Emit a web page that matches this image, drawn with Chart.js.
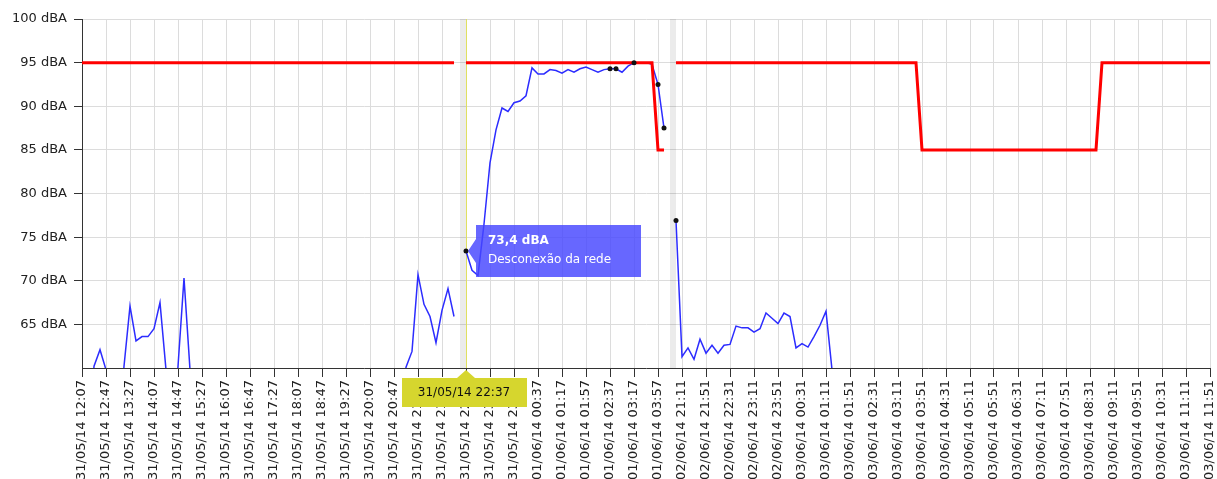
<!DOCTYPE html>
<html>
<head>
<meta charset="utf-8">
<script src="https://cdn.jsdelivr.net/npm/chart.js@4"></script>
<style>
  body { margin: 0; background: #fff; }
  #grafico { display: block; }
</style>
</head>
<body>
<canvas id="grafico" width="1217" height="479"></canvas>
<script>
// rótulos visíveis do eixo X (um a cada 4 leituras)
const rotulosX = [
  '31/05/14 12:07', '31/05/14 12:47', '31/05/14 13:27', '31/05/14 14:07', '31/05/14 14:47', '31/05/14 15:27',
  '31/05/14 16:07', '31/05/14 16:47', '31/05/14 17:27', '31/05/14 18:07', '31/05/14 18:47', '31/05/14 19:27',
  '31/05/14 20:07', '31/05/14 20:47', '31/05/14 21:17', '31/05/14 21:57', '31/05/14 22:37', '31/05/14 23:17',
  '31/05/14 23:57', '01/06/14 00:37', '01/06/14 01:17', '01/06/14 01:57', '01/06/14 02:37', '01/06/14 03:17',
  '01/06/14 03:57', '02/06/14 21:11', '02/06/14 21:51', '02/06/14 22:31', '02/06/14 23:11', '02/06/14 23:51',
  '03/06/14 00:31', '03/06/14 01:11', '03/06/14 01:51', '03/06/14 02:31', '03/06/14 03:11', '03/06/14 03:51',
  '03/06/14 04:31', '03/06/14 05:11', '03/06/14 05:51', '03/06/14 06:31', '03/06/14 07:11', '03/06/14 07:51',
  '03/06/14 08:31', '03/06/14 09:11', '03/06/14 09:51', '03/06/14 10:31', '03/06/14 11:11', '03/06/14 11:51'
];

// nível medido (dBA); null = sem leitura
const nivel = [
  null, 50, 60.2, 62.1, 59.8, 50, 50, 60.2, 67.1, 63.1,
  63.6, 63.6, 64.5, 67.5, 59.8, 50, 60.2, 70.3, 59.8, 50,
  null, null, null, null, null, null, null, null, null, null,
  null, null, null, null, null, null, null, null, null, null,
  null, null, null, null, null, null, null, null, null, null,
  null, null, null, 50, 60.1, 61.9, 70.7, 67.3, 65.9, 62.9,
  66.6, 69.1, 65.9, null, 73.4, 71.2, 70.6, 76.5, 83.5, 87.3,
  89.8, 89.4, 90.4, 90.6, 91.2, 94.4, 93.7, 93.7, 94.2, 94.1,
  93.8, 94.2, 93.9, 94.3, 94.5, 94.2, 93.9, 94.2, 94.3, 94.3,
  93.9, 94.6, 95.0, 95.0, 95.0, 94.8, 92.5, 87.5, null, 76.9,
  61.3, 62.3, 61.0, 63.3, 61.7, 62.6, 61.7, 62.6, 62.7, 64.8,
  64.6, 64.6, 64.1, 64.5, 66.3, 65.7, 65.1, 66.3, 65.9, 62.3,
  62.8, 62.4, 63.6, 64.9, 66.5, 59.8, null, null, null, null,
  null, null, null, null, null, null, null, null, null, null,
  null, null, null, null, null, null, null, null, null, null,
  null, null, null, null, null, null, null, null, null, null,
  null, null, null, null, null, null, null, null, null, null,
  null, null, null, null, null, null, null, null, null, null,
  null, null, null, null, null, null, null, null, null
];

// limite (dBA)
const limite = [
  95, 95, 95, 95, 95, 95, 95, 95, 95, 95,
  95, 95, 95, 95, 95, 95, 95, 95, 95, 95,
  95, 95, 95, 95, 95, 95, 95, 95, 95, 95,
  95, 95, 95, 95, 95, 95, 95, 95, 95, 95,
  95, 95, 95, 95, 95, 95, 95, 95, 95, 95,
  95, 95, 95, 95, 95, 95, 95, 95, 95, 95,
  95, 95, 95, null, 95, 95, 95, 95, 95, 95,
  95, 95, 95, 95, 95, 95, 95, 95, 95, 95,
  95, 95, 95, 95, 95, 95, 95, 95, 95, 95,
  95, 95, 95, 95, 95, 95, 85, 85, null, 95,
  95, 95, 95, 95, 95, 95, 95, 95, 95, 95,
  95, 95, 95, 95, 95, 95, 95, 95, 95, 95,
  95, 95, 95, 95, 95, 95, 95, 95, 95, 95,
  95, 95, 95, 95, 95, 95, 95, 95, 95, 95,
  85, 85, 85, 85, 85, 85, 85, 85, 85, 85,
  85, 85, 85, 85, 85, 85, 85, 85, 85, 85,
  85, 85, 85, 85, 85, 85, 85, 85, 85, 85,
  95, 95, 95, 95, 95, 95, 95, 95, 95, 95,
  95, 95, 95, 95, 95, 95, 95, 95, 95
];

// leituras marcadas com ponto, desconexões e ponto selecionado
const marcados = [64, 88, 89, 92, 96, 97, 99];
const desconexoes = [63, 98];
const selecionado = 64;
const textoSelecionado = ['73,4 dBA', 'Desconexão da rede'];

const categorias = nivel.map((v, i) => (i % 4 === 0 ? rotulosX[i / 4] : ''));

Chart.defaults.font.family = "'DejaVu Sans', Verdana, sans-serif";
Chart.defaults.font.size = 13;
Chart.defaults.color = '#222';

// faixas cinza das desconexões, linha amarela, pontos e etiquetas
const faixas = {
  id: 'faixas',
  beforeDatasetsDraw(chart) {
    const { ctx, chartArea, scales } = chart;
    ctx.save();
    ctx.fillStyle = 'rgba(0,0,0,0.08)';
    desconexoes.forEach(i => {
      const x0 = scales.x.getPixelForValue(i);
      const x1 = scales.x.getPixelForValue(i + 1);
      ctx.fillRect(x0, chartArea.top, x1 - x0, chartArea.bottom - chartArea.top);
    });
    const xs = Math.round(scales.x.getPixelForValue(selecionado)) + 0.5;
    ctx.strokeStyle = '#e0e060';
    ctx.lineWidth = 1;
    ctx.beginPath();
    ctx.moveTo(xs, chartArea.top);
    ctx.lineTo(xs, chartArea.bottom);
    ctx.stroke();
    ctx.restore();
  },
  afterDatasetsDraw(chart) {
    const { ctx } = chart;
    const meta = chart.getDatasetMeta(1);
    ctx.save();
    ctx.fillStyle = '#111';
    marcados.forEach(i => {
      const p = meta.data[i];
      ctx.beginPath();
      ctx.arc(p.x, p.y, 2.5, 0, Math.PI * 2);
      ctx.fill();
    });
    ctx.restore();
  },
  afterDraw(chart) {
    const { ctx, chartArea, scales } = chart;
    const x = scales.x.getPixelForValue(selecionado);
    const y = scales.y.getPixelForValue(nivel[selecionado]);
    ctx.save();
    // caixa de informação azul
    ctx.fillStyle = 'rgba(70,70,255,0.82)';
    ctx.beginPath();
    ctx.moveTo(x + 2, y);
    ctx.lineTo(x + 10, y - 12);
    ctx.lineTo(x + 10, y - 26);
    ctx.lineTo(x + 175, y - 26);
    ctx.lineTo(x + 175, y + 26);
    ctx.lineTo(x + 10, y + 26);
    ctx.lineTo(x + 10, y + 12);
    ctx.closePath();
    ctx.fill();
    ctx.fillStyle = '#fff';
    ctx.textAlign = 'left';
    ctx.textBaseline = 'middle';
    ctx.font = "bold 12px 'DejaVu Sans'";
    ctx.fillText(textoSelecionado[0], x + 22, y - 10);
    ctx.font = "12px 'DejaVu Sans'";
    ctx.fillText(textoSelecionado[1], x + 22, y + 9);
    // etiqueta amarela do eixo X
    const yb = chartArea.bottom;
    ctx.fillStyle = '#d6d62e';
    ctx.beginPath();
    ctx.moveTo(x, yb + 2);
    ctx.lineTo(x + 9, yb + 10);
    ctx.lineTo(x + 61, yb + 10);
    ctx.lineTo(x + 61, yb + 39);
    ctx.lineTo(x - 64, yb + 39);
    ctx.lineTo(x - 64, yb + 10);
    ctx.lineTo(x - 9, yb + 10);
    ctx.closePath();
    ctx.fill();
    ctx.fillStyle = '#111';
    ctx.textAlign = 'center';
    ctx.font = "12px 'DejaVu Sans'";
    ctx.fillText(rotulosX[selecionado / 4], x - 2, yb + 25);
    ctx.restore();
  }
};

new Chart(document.getElementById('grafico'), {
  type: 'line',
  data: {
    labels: categorias,
    datasets: [{
      label: 'Limite',
      data: limite,
      borderColor: '#ff0000',
      borderWidth: 3,
      pointRadius: 0,
      tension: 0
    }, {
      label: 'Nível',
      data: nivel,
      borderColor: '#2c2cff',
      borderWidth: 1.5,
      pointRadius: 0,
      tension: 0
    }]
  },
  options: {
    responsive: false,
    animation: false,
    devicePixelRatio: 1,
    layout: { padding: { top: 19, right: 0, left: 0, bottom: 0 } },
    plugins: {
      legend: { display: false },
      tooltip: { enabled: false }
    },
    events: [],
    scales: {
      x: {
        grid: { color: '#dcdcdc', tickColor: '#333', tickLength: 9 },
        border: { color: '#333' },
        ticks: {
          autoSkip: false,
          minRotation: 90,
          maxRotation: 90,
          padding: 3,
          color: '#222',
          callback: function(val, i) {
            return i % 4 === 0 ? this.getLabelForValue(val) : null;
          }
        },
        afterFit(scale) {
          scale.height = 111;
          scale.paddingLeft = 0;
          scale.paddingRight = 7;
        }
      },
      y: {
        min: 60,
        max: 100,
        grid: { color: '#dcdcdc', tickColor: '#333', tickLength: 8 },
        border: { color: '#333' },
        ticks: {
          stepSize: 5,
          padding: 7,
          color: '#222',
          callback: v => (v === 60 ? null : v + ' dBA')
        },
        afterFit(scale) { scale.width = 82; }
      }
    }
  },
  plugins: [faixas]
});
</script>
</body>
</html>
